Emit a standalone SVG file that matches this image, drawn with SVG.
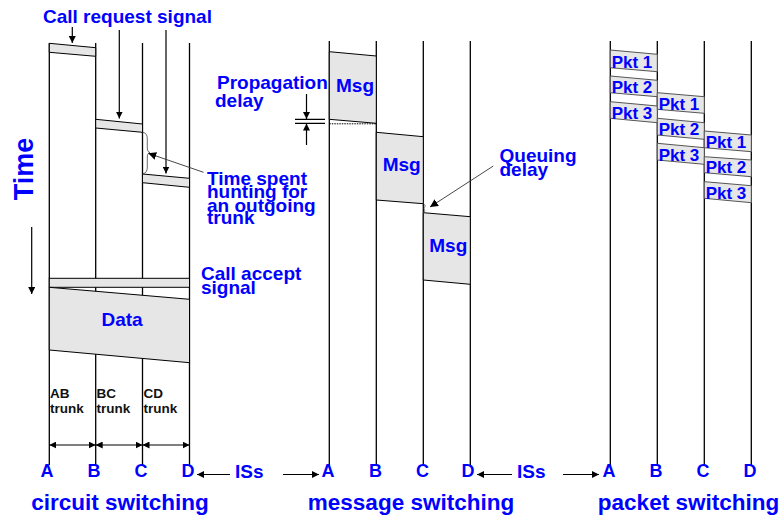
<svg xmlns="http://www.w3.org/2000/svg" width="783" height="517" viewBox="0 0 783 517">
<defs>
<marker id="ah" viewBox="0 0 10 10" refX="10" refY="5" markerWidth="7" markerHeight="7" markerUnits="userSpaceOnUse" orient="auto-start-reverse">
<path d="M0,0 L10,5 L0,10 z" fill="#000"/>
</marker>
<marker id="ahs" viewBox="0 0 10 10" refX="10" refY="5" markerWidth="8" markerHeight="8" markerUnits="userSpaceOnUse" orient="auto">
<path d="M0,0 L10,5 L0,10 z" fill="#000"/>
</marker>
</defs>
<style>
.ln{stroke:#000;stroke-width:1.3;fill:none}
.blk{fill:#e6e6e6;stroke:#000;stroke-width:1}
.pk{fill:#e6e6e6;stroke:#555;stroke-width:1}
.t{font-family:"Liberation Sans",Arial,sans-serif;font-weight:bold;fill:#0000ff}
.lbl{font-size:19px}
.pt{font-size:17px;text-anchor:middle}
.nd{font-size:18px;text-anchor:middle}
.ttl{font-size:22.5px;text-anchor:middle}
.k{font-family:"Liberation Sans",Arial,sans-serif;font-weight:bold;fill:#111;font-size:13.5px}
.ar{stroke:#000;stroke-width:1.2;fill:none;marker-end:url(#ah)}
.thin{stroke:#444;stroke-width:0.8;fill:none}
</style>
<rect width="783" height="517" fill="#fff"/>

<!-- lanes -->
<g id="lanes">
<path class="ln" d="M49.3,43 V465 M95.7,43 V465 M142.5,43 V465 M189.5,43 V465"/>
<path class="ln" d="M329.3,41 V465 M376.3,41 V465 M423.3,41 V465 M470.3,41 V465"/>
<path class="ln" d="M610.3,41 V465 M657.3,41 V465 M704.3,41 V465 M751.3,41 V465"/>
</g>

<!-- circuit switching -->
<g id="circuit">
<polygon class="blk" points="49.3,43.3 95.7,47.7 95.7,56.3 49.3,52.3"/>
<polygon class="blk" points="95.7,119.3 142.5,124 142.5,132.3 95.7,128"/>
<polygon class="blk" points="142.5,174 189.5,178.3 189.5,187.3 142.5,182.7"/>
<rect class="blk" x="49.3" y="278.3" width="140.2" height="9"/>
<polygon class="blk" points="49.3,287.3 189.5,299.3 189.5,362.7 49.3,350"/>
<text class="t" x="122" y="326" font-size="19" text-anchor="middle">Data</text>
<path class="thin" d="M142.8,132.3 C146,133 147.3,135 147.3,139 V148 C147.3,151 148.5,152 150,152.5 C148.5,153 147.3,154 147.3,157 V167 C147.3,171 146,173 142.8,174"/>
</g>

<g id="call-request">
<text class="t lbl" x="43" y="23">Call request signal</text>
</g>
<g id="time">
<text class="t" transform="translate(33,169) rotate(-90)" font-size="27" text-anchor="middle">Time</text>
</g>
<g id="time-spent">
<text class="t lbl" x="207" y="185">Time spent</text>
<text class="t lbl" x="207" y="198">hunting for</text>
<text class="t lbl" x="207" y="211.5">an outgoing</text>
<text class="t lbl" x="207" y="224">trunk</text>
</g>
<g id="call-accept">
<text class="t lbl" x="201" y="280">Call accept</text>
<text class="t lbl" x="201" y="293.5">signal</text>
</g>
<g id="trunks">
<text class="k" x="50" y="398">AB</text><text class="k" x="50" y="413">trunk</text>
<text class="k" x="96.5" y="398">BC</text><text class="k" x="96.5" y="413">trunk</text>
<text class="k" x="143.5" y="398">CD</text><text class="k" x="143.5" y="413">trunk</text>
</g>

<!-- message switching -->
<g id="message">
<polygon class="blk" points="329.3,51.7 376.3,56 376.3,123.3 329.3,119.3"/>
<polygon class="blk" points="376.3,132.3 423.3,136.7 423.3,203.7 376.3,200"/>
<polygon class="blk" points="423.3,212.7 470.3,216.7 470.3,284.3 423.3,280"/>
<path d="M329.3,123.8 H376.3" stroke="#000" stroke-width="1" stroke-dasharray="1.5,1" fill="none"/>
<path class="thin" d="M423.3,203.7 C425.5,205 425.5,206 424.3,207.5 C423.3,209 425.5,210 424.5,211.5 L423.3,212.7"/>
<text class="t" x="355" y="92" font-size="19" text-anchor="middle">Msg</text>
<text class="t" x="401.7" y="171" font-size="19" text-anchor="middle">Msg</text>
<text class="t" x="448.3" y="252" font-size="19" text-anchor="middle">Msg</text>
</g>
<g id="propagation">
<text class="t lbl" x="217" y="89">Propagation</text>
<text class="t lbl" x="215" y="107">delay</text>
<path d="M295,119.3 H325 M295,123.3 H325" stroke="#000" stroke-width="1.2" fill="none"/>
</g>
<g id="queuing">
<text class="t lbl" x="499.5" y="162">Queuing</text>
<text class="t lbl" x="499.5" y="175.5">delay</text>
</g>

<!-- packet switching -->
<g id="packet">
<polygon class="pk" points="610.3,50 657.3,54.3 657.3,71.7 610.3,67.7"/>
<polygon class="pk" points="610.3,76 657.3,80.3 657.3,96.7 610.3,92.7"/>
<polygon class="pk" points="610.3,101.7 657.3,106 657.3,122.7 610.3,118.3"/>
<polygon class="pk" points="657.3,92.7 704.3,96.7 704.3,113.3 657.3,109.3"/>
<polygon class="pk" points="657.3,118.3 704.3,122.7 704.3,139.3 657.3,135"/>
<polygon class="pk" points="657.3,143.3 704.3,147.7 704.3,164.3 657.3,160"/>
<polygon class="pk" points="704.3,131 751.3,135 751.3,151.7 704.3,147.7"/>
<polygon class="pk" points="704.3,156.7 751.3,160 751.3,176.7 704.3,172.7"/>
<polygon class="pk" points="704.3,181.7 751.3,185.7 751.3,202.7 704.3,198.3"/>
<text class="t pt" x="632" y="67.5">Pkt 1</text>
<text class="t pt" x="632" y="93">Pkt 2</text>
<text class="t pt" x="632" y="118.5">Pkt 3</text>
<text class="t pt" x="679" y="109.5">Pkt 1</text>
<text class="t pt" x="679" y="135">Pkt 2</text>
<text class="t pt" x="679" y="160.5">Pkt 3</text>
<text class="t pt" x="726" y="148">Pkt 1</text>
<text class="t pt" x="726" y="173">Pkt 2</text>
<text class="t pt" x="726" y="198.5">Pkt 3</text>
</g>

<!-- node labels -->
<g id="labels">
<text class="t nd" x="47" y="477">A</text><text class="t nd" x="94" y="477">B</text><text class="t nd" x="141" y="477">C</text><text class="t nd" x="188" y="477">D</text>
<text class="t nd" x="328" y="477">A</text><text class="t nd" x="375.5" y="477">B</text><text class="t nd" x="422.5" y="477">C</text><text class="t nd" x="468" y="477">D</text>
<text class="t nd" x="609" y="477">A</text><text class="t nd" x="656" y="477">B</text><text class="t nd" x="703" y="477">C</text><text class="t nd" x="750" y="477">D</text>
<text class="t lbl" x="235" y="477.5">ISs</text>
<text class="t lbl" x="517" y="477.5">ISs</text>
<text class="t ttl" x="120" y="510">circuit switching</text>
<text class="t ttl" x="411" y="510">message switching</text>
<text class="t ttl" x="688.5" y="510">packet switching</text>
</g>

<!-- connectors -->
<g id="connectors">
<path class="ar" d="M72.3,27 V43"/>
<path class="ar" d="M119.3,30 V118.5"/>
<path class="ar" d="M166,30 V173.5"/>
<path class="ar" d="M31.7,227 V294"/>
<path d="M203.5,172.3 L148.3,153.3" stroke="#333" stroke-width="0.9" fill="none" marker-end="url(#ahs)"/>
<path d="M493.3,166 L430,207" stroke="#333" stroke-width="0.9" fill="none" marker-end="url(#ahs)"/>
<path class="ar" d="M306.5,94 V119"/>
<path class="ar" d="M306.5,145 V123.6"/>
<path class="ar" d="M49.3,445 H95.7" marker-start="url(#ah)"/>
<path class="ar" d="M95.7,445 H142.5" marker-start="url(#ah)"/>
<path class="ar" d="M142.5,445 H189.5" marker-start="url(#ah)"/>
<path class="ar" d="M230,474.5 H197"/>
<path class="ar" d="M283,474.5 H319"/>
<path class="ar" d="M512,474.5 H477"/>
<path class="ar" d="M563,474.5 H599"/>
</g>
</svg>
